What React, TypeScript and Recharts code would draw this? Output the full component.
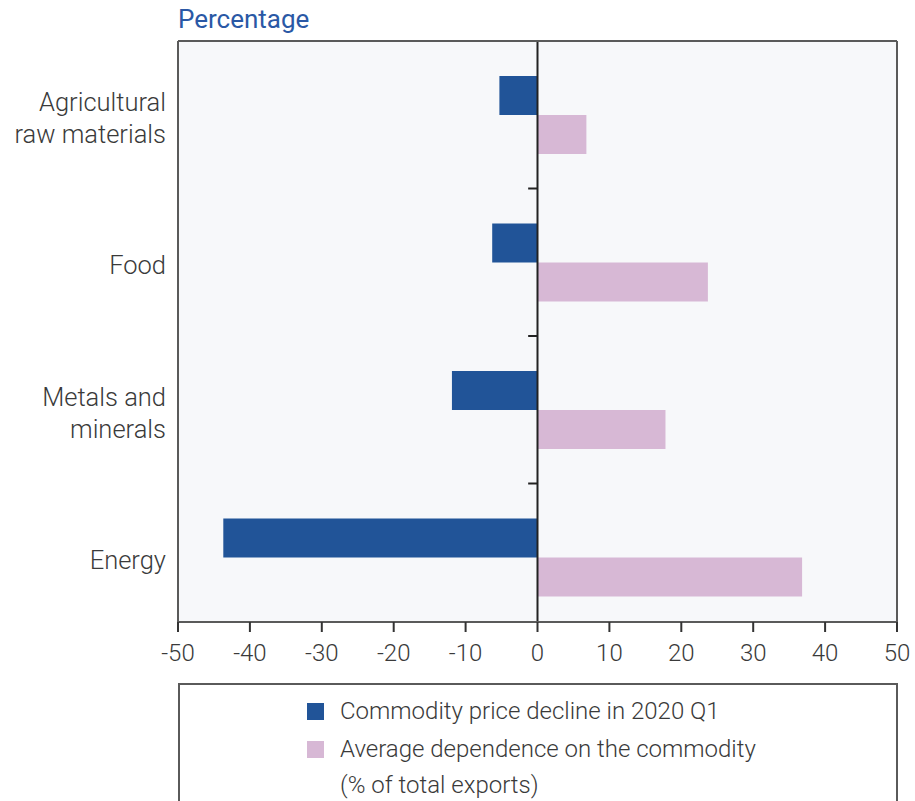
import React from 'react';
import { BarChart, Bar, XAxis, YAxis, CartesianGrid, ReferenceLine, Legend } from 'recharts';

// Category labels, one entry per displayed line
const categoryLines: string[][] = [
  ['Agricultural', 'raw materials'],
  ['Food'],
  ['Metals and', 'minerals'],
  ['Energy'],
];
const categories = categoryLines.map((l) => l.join(' '));

// Commodity price decline in 2020 Q1 (%)
const priceDecline = [-5.3, -6.3, -11.9, -43.7];
// Average dependence on the commodity (% of total exports)
const exportDependence = [6.8, 23.7, 17.8, 36.8];

const xTicks = [-50, -40, -30, -20, -10, 0, 10, 20, 30, 40, 50];
const seriesNames = [
  'Commodity price decline in 2020 Q1',
  'Average dependence on the commodity (% of total exports)',
];

const data = categories.map((category, i) => ({
  category,
  decline: priceDecline[i],
  dependence: exportDependence[i],
}));

const FONT = 'Roboto, "Noto Sans", sans-serif';
const BLUE = '#215498';
const PINK = '#d7b8d5';
const FRAME = '#5a5a5a';
const TEXT = '#3a3a3a';
const AXIS_DARK = '#222';

const CategoryTick = (props: any) => {
  const { x, y, payload } = props;
  const idx = categories.indexOf(payload.value);
  const lines = idx >= 0 ? categoryLines[idx] : [String(payload.value)];
  const lh = 32;
  const start = -((lines.length - 1) * lh) / 2;
  return (
    <text x={x} y={y} textAnchor="end" fontFamily={FONT} fontWeight={300} fontSize={25.5} fill={TEXT}>
      {lines.map((line, i) => (
        <tspan key={i} x={x} y={y + start + i * lh + 3} dy="0.36em">
          {line}
        </tspan>
      ))}
    </text>
  );
};

const LegendBox = (props: any) => {
  const payload = [...(props.payload || [])].sort(
    (a: any, b: any) => seriesNames.indexOf(String(a.value)) - seriesNames.indexOf(String(b.value))
  );
  return (
    <div
      style={{
        boxSizing: 'border-box',
        width: 720,
        height: 140,
        border: `2px solid ${FRAME}`,
        borderBottom: 'none',
        paddingTop: 8,
        paddingLeft: 127,
        fontFamily: FONT,
        fontWeight: 300,
        fontSize: 24,
        lineHeight: '36px',
        color: TEXT,
        background: '#fff',
      }}
    >
      {payload.map((entry: any, i: number) => {
        const name = String(entry.value);
        const cut = name.indexOf(' (');
        const lines = cut > 0 ? [name.slice(0, cut), name.slice(cut + 1)] : [name];
        return (
          <div key={i} style={{ display: 'flex', alignItems: 'flex-start', marginTop: i > 0 ? 2 : 0 }}>
            <span
              style={{
                display: 'inline-block',
                width: 17,
                height: 17,
                marginTop: 10,
                marginRight: 16,
                background: entry.color,
                flex: 'none',
              }}
            />
            <div>
              {lines.map((l, j) => (
                <div key={j}>{l}</div>
              ))}
            </div>
          </div>
        );
      })}
    </div>
  );
};

export default function App() {
  return (
    <div style={{ position: 'absolute', left: 0, top: 0, width: 915, height: 801, background: '#fff' }}>
      <div
        style={{
          position: 'absolute',
          left: 178,
          top: 5,
          fontFamily: FONT,
          fontSize: 26,
          lineHeight: '28px',
          color: '#2a58a5',
        }}
      >
        Percentage
      </div>
      <BarChart
        width={915}
        height={801}
        data={data}
        layout="vertical"
        margin={{ top: 40, right: 17, bottom: 139, left: 0 }}
        barGap={0}
        barSize={39}
      >
        <CartesianGrid fill="#f7f8fa" horizontal={false} vertical={false} />
        <XAxis
          type="number"
          domain={[-50, 50]}
          ticks={xTicks}
          interval={0}
          height={40}
          axisLine={{ stroke: FRAME, strokeWidth: 2 }}
          tickLine={{ stroke: '#333', strokeWidth: 2 }}
          tickSize={10}
          tickMargin={12}
          tick={{ fontFamily: FONT, fontWeight: 300, fontSize: 24, fill: TEXT }}
        />
        <XAxis
          xAxisId="top"
          orientation="top"
          type="number"
          domain={[-50, 50]}
          height={1}
          tick={false}
          tickLine={false}
          axisLine={{ stroke: FRAME, strokeWidth: 2 }}
        />
        <YAxis
          type="category"
          dataKey="category"
          width={178}
          padding={{ top: 0, bottom: -9 }}
          tickSize={0}
          tickMargin={12}
          tickLine={false}
          axisLine={{ stroke: FRAME, strokeWidth: 2 }}
          tick={<CategoryTick />}
          interval={0}
        />
        <YAxis
          yAxisId="right"
          orientation="right"
          type="number"
          domain={[0, 1]}
          width={1}
          tick={false}
          tickLine={false}
          axisLine={{ stroke: FRAME, strokeWidth: 2 }}
        />
        <Legend
          layout="horizontal"
          verticalAlign="middle"
          align="center"
          wrapperStyle={{ left: 178, top: 683, width: 720 }}
          content={<LegendBox />}
        />
        <Bar dataKey="decline" name={seriesNames[0]} fill={BLUE} isAnimationActive={false} />
        <Bar dataKey="dependence" name={seriesNames[1]} fill={PINK} isAnimationActive={false} />
        <ReferenceLine x={0} stroke={AXIS_DARK} strokeWidth={2} />
        {/* short tick marks on the zero axis at the top edge of each category band */}
        {categories.slice(1).map((c) => (
          <ReferenceLine
            key={c}
            position="start"
            segment={[
              { x: -1.3, y: c },
              { x: 0, y: c },
            ]}
            stroke={AXIS_DARK}
            strokeWidth={2}
          />
        ))}
      </BarChart>
    </div>
  );
}
